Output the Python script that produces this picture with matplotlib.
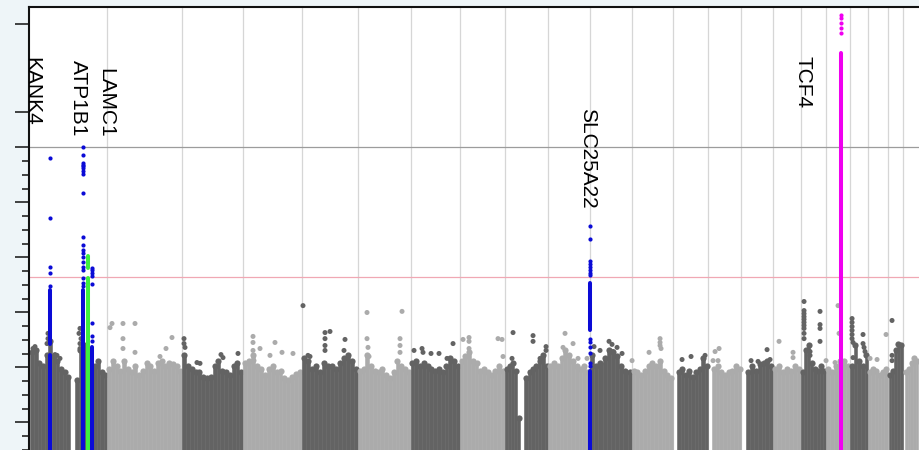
import numpy as np
import matplotlib
matplotlib.use("Agg")
import matplotlib.pyplot as plt

# chromosome lengths (Mb, hg19)
chrom_len = [249.25, 243.20, 198.02, 191.15, 180.92, 171.12, 159.14, 146.36,
             141.21, 135.53, 135.01, 133.85, 115.17, 107.35, 102.53, 90.35,
             81.20, 78.08, 59.13, 63.03, 48.13, 51.30]
cum_start = np.concatenate([[0], np.cumsum(chrom_len)[:-1]])

# bulk of the SNP cloud: covered stretch of each chromosome and the height of the dense part
seg_chrom = [1, 1, 2, 3, 4, 5, 6, 7, 8, 9, 9, 10, 11, 12, 13, 14, 15, 16, 17, 18, 19, 20, 21, 22]
seg_from = [0, 145, 0, 0, 0, 0, 0, 0, 0, 2, 64, 0, 0, 0, 14, 12, 16, 0, 0, 0, 0, 0, 3, 8]
seg_to = [128.6, 249.25, 243.2, 198.02, 191.15, 180.92, 171.12, 159.14, 146.36, 51, 141.21,
          135.53, 135.01, 133.85, 115.17, 107.35, 102.53, 90.35, 81.2, 78.08, 59.13, 63.03,
          48.13, 51.3]
seg_tops = [
    [4.55, 4.62, 4.15, 4.07, 4.44, 4.98, 4.40, 4.25, 3.96, 3.82, 3.67],
    [3.53, 4.62, 4.80, 4.07, 3.96, 4.04, 4.25, 3.82, 3.71],
    [3.96, 4.25, 4.07, 3.89, 4.25, 3.96, 3.82, 4.07, 3.71, 3.89, 4.18, 4.04, 3.89, 4.18,
     4.25, 4.04, 4.18, 4.11, 4.04, 3.89],
    [4.44, 4.07, 3.96, 3.82, 3.82, 3.67, 3.60, 3.67, 4.07, 4.25, 3.89, 3.82, 3.71, 4.07, 4.18, 3.82],
    [4.18, 4.25, 4.44, 4.07, 3.96, 3.71, 3.96, 4.07, 3.82, 3.89, 3.60, 3.53, 3.67, 3.75, 3.82],
    [4.33, 4.25, 3.96, 4.07, 3.82, 4.18, 4.07, 4.04, 3.96, 4.18, 4.33, 4.44, 4.25, 3.96],
    [3.89, 3.96, 4.44, 4.07, 3.89, 3.82, 3.96, 3.71, 3.60, 3.82, 4.25, 4.04, 3.96, 3.82],
    [4.18, 4.25, 4.07, 4.18, 4.04, 3.96, 3.89, 3.96, 3.82, 4.07, 4.33, 4.25, 4.07],
    [4.25, 4.40, 4.55, 4.25, 4.18, 3.89, 3.96, 3.82, 3.71, 3.89, 4.07, 3.89],
    [3.96, 4.07, 4.18, 3.89, 2.15],
    [3.60, 3.82, 3.96, 4.07, 4.25, 4.44, 4.07],
    [4.04, 4.18, 4.07, 4.33, 4.62, 4.44, 4.25, 4.07, 3.96, 4.04, 3.82],
    [4.44, 4.07, 4.18, 4.33, 4.62, 4.55, 4.40, 4.07, 3.89, 3.82],
    [3.89, 3.82, 3.71, 3.89, 4.04, 4.18, 4.07, 4.25, 3.89, 3.71, 3.60],
    [3.82, 3.96, 3.71, 3.89, 3.67, 3.82, 3.96, 4.33, 4.07],
    [3.96, 4.07, 3.82, 3.71, 3.82, 3.89, 4.07, 3.96],
    [3.82, 4.04, 3.89, 4.11, 4.18, 4.25, 4.04],
    [3.96, 4.04, 3.82, 3.96, 3.89, 4.07, 3.96],
    [3.82, 4.62, 4.80, 4.18, 3.96, 3.89, 4.07, 3.89],
    [3.96, 3.82, 4.07, 4.25, 4.25, 4.07],
    [4.07, 4.80, 4.25, 4.04, 4.44],
    [3.82, 3.96, 3.89, 3.71, 3.82, 3.96],
    [3.71, 3.89, 4.62, 4.87, 4.80],
    [3.82, 3.96, 4.18, 4.33, 4.25],
]

# single SNPs sticking out of the cloud (genome position Mb, -log10 p)
out_pos = [8.4, 14.9, 57.1, 57.1, 53.9, 79.8, 86.3, 96.0,
           160.9, 157.7, 164.2, 160.9, 160.9,
           264.8, 300.4, 339.4, 258.3, 300.4, 300.4, 339.4, 459.4, 440.0, 420.5,
           498.4, 498.4, 501.6, 540.5, 550.3, 618.4, 624.9, 673.6,
           722.3, 722.3, 722.3, 725.5, 745.0, 793.6, 777.4, 816.4, 852.0,
           884.5, 955.9, 972.1, 955.9, 955.9, 955.9, 1020.8, 1017.5, 907.2, 900.7,
           1092.2, 1205.8, 1092.2, 1095.4, 1199.3, 1199.3, 1199.3, 1098.7,
           1244.7, 1270.7, 1273.9, 1299.9, 1325.8, 1371.3, 1351.8,
           1403.7, 1423.2, 1423.2, 1423.2, 1517.3, 1530.3, 1533.5,
           1566.0, 1562.7, 1630.9, 1630.9, 1673.1, 1673.1, 1653.6,
           1734.7, 1760.7, 1728.2, 1776.9, 1806.1,
           1877.5, 1887.2, 1903.5, 1890.5, 1828.8, 1848.3, 1919.7,
           2007.3, 2043.0, 2043.0, 2043.0, 2046.2, 1952.2,
           2114.4, 2143.6, 2189.0,
           2221.5, 2234.5, 2215.0, 2231.2,
           2390.2, 2338.3, 2361.0, 2399.9,
           2429.1, 2474.5, 2474.5,
           2510.2, 2510.2, 2510.2, 2510.2, 2510.2, 2510.2, 2510.2, 2510.2, 2510.2, 2510.2,
           2562.1, 2562.1, 2562.1, 2562.1, 2529.7, 2529.7,
           2620.5, 2623.8, 2581.6, 2610.8,
           2666.0, 2666.0, 2666.0, 2666.0, 2666.0, 2666.0, 2669.2, 2701.6, 2701.6, 2704.9,
           2708.1, 2669.2,
           2776.3, 2724.4, 2747.1,
           2795.7, 2795.7, 2795.7]
out_val = [4.69, 4.76, 5.24, 5.05, 4.87, 4.47, 4.44, 4.33,
           5.42, 5.24, 5.05, 4.87, 4.69,
           5.60, 5.60, 5.60, 5.45, 5.05, 4.69, 4.55, 5.09, 4.69, 4.40,
           5.05, 4.87, 4.73, 4.18, 4.15, 4.47, 4.36, 4.51,
           5.13, 4.91, 4.62, 4.25, 4.69, 4.91, 4.44, 4.55, 4.51,
           6.25, 5.27, 5.31, 5.05, 4.80, 4.62, 5.02, 4.62, 4.40, 4.44,
           6.00, 6.04, 5.05, 4.73, 5.05, 4.80, 4.55, 4.40,
           4.62, 4.69, 4.55, 4.51, 4.51, 4.87, 4.33,
           5.02, 5.09, 4.95, 4.69, 5.05, 5.02, 4.40,
           5.27, 4.33, 5.16, 4.95, 4.76, 4.62, 4.33,
           5.24, 4.87, 4.73, 4.33, 4.33,
           4.95, 4.84, 4.73, 4.58, 4.76, 4.62, 4.51,
           4.55, 5.05, 4.91, 4.80, 4.69, 4.25,
           4.29, 4.40, 4.44,
           4.58, 4.69, 4.25, 4.25,
           4.65, 4.25, 4.22, 4.29,
           4.95, 4.55, 4.36,
           6.40, 6.07, 5.96, 5.85, 5.75, 5.64, 5.53, 5.42, 5.24, 5.05,
           6.04, 5.56, 5.42, 4.95, 4.58, 4.44,
           6.25, 5.24, 4.25, 4.18,
           5.78, 5.64, 5.49, 5.35, 5.20, 5.05, 4.91, 5.20, 4.87, 4.73,
           4.58, 4.36,
           5.20, 4.33, 4.29,
           5.71, 4.44, 4.25]

# highlighted loci: (chromosome, position Mb), single SNPs and unbroken runs of SNPs
kank4_at = (1, 63.0)
kank4_pts = [11.60, 9.45, 7.64, 7.45, 6.98]
kank4_runs = [(4.87, 6.80), (0, 4.44)]

atp1b1_at = (1, 170.3)
atp1b1_pts = [12.0, 11.71, 11.45, 11.38, 11.31, 11.24, 11.13, 11.05, 10.36, 8.73,
              8.44, 8.29, 8.15, 8.0, 7.85, 7.64, 7.53, 7.27, 7.09, 6.95]
atp1b1_runs = [(0, 6.80)]

lamc1_at = (1, 186.5)
lamc1_runs = [(7.60, 8.07), (0, 7.27)]

lamc1b_at = (1, 199.5)
lamc1b_pts = [7.60, 7.53, 7.42, 7.31, 7.05, 5.60, 5.16, 4.98]
lamc1b_runs = [(0, 4.73)]

slc_at = (11, 0.8)
slc_pts = [9.16, 8.69, 7.89, 7.78, 7.67, 7.56, 7.45, 7.35, 5.05, 4.91, 4.73, 4.51, 4.18, 4.04]
slc_runs = [(5.35, 7.09), (0, 3.89)]

tcf4_at = (18, 50.0)
tcf4_pts = [42.0, 41.32, 40.18, 39.05, 37.91]
tcf4_runs = [(0, 33.36)]

gene_names = ["KANK4", "ATP1B1", "LAMC1", "SLC25A22", "TCF4"]
gene_label_x = [5.2, 154.7, 245.3, 1809.0, 2506.8]
gene_label_y = [32.45, 31.8, 29.95, 20.86, 32.9]

suggestive = 7.3
axis_break = 12.0

DARK, LIGHT = "#636363", "#ababab"
BLUE, GREEN, MAGENTA = "#0b0bd6", "#3ef03e", "#f000f0"

squeeze = 0.16


def fwd(v):
    v = np.asarray(v, float)
    return np.where(v <= axis_break, v, axis_break + (v - axis_break) * squeeze)


def inv(t):
    t = np.asarray(t, float)
    return np.where(t <= axis_break, t, axis_break + (t - axis_break) / squeeze)


fig = plt.figure(figsize=(9.2, 4.5), dpi=100, facecolor="#eef5f8")
ax = fig.add_axes([29 / 920, 1 - 477.5 / 450, 907.5 / 920, 471 / 450])
ax.set_facecolor("white")
ax.set_yscale("function", functions=(fwd, inv))
ax.set_xlim(-4.54, 2940)
ax.set_ylim(0, 44.04)

for s in cum_start[1:]:
    ax.axvline(s, color="#d6d6d6", lw=0.9, zorder=0)
ax.axhline(axis_break, color="#9c9c9c", lw=0.9, zorder=1)
ax.axhline(suggestive, color="#f0a8b4", lw=0.9, zorder=1)

# dense cloud
for c, a, b, tops in zip(seg_chrom, seg_from, seg_to, seg_tops):
    col = DARK if c % 2 == 1 else LIGHT
    n = len(tops)
    w = (b - a) / n
    xs = cum_start[c - 1] + a + w * (np.arange(n) + 0.5)
    ax.bar(xs, tops, width=w, bottom=0, color=col, edgecolor=col, linewidth=0.4, zorder=2)
    ax.scatter(xs, tops, s=20, color=col, linewidths=0, zorder=2)

out_pos = np.array(out_pos)
out_chrom = np.searchsorted(cum_start, out_pos, side="right")
out_col = [DARK if c % 2 == 1 else LIGHT for c in out_chrom]
ax.scatter(out_pos, out_val, s=13, c=out_col, linewidths=0, zorder=2.5)


def locus(at, pts, runs, color, z):
    x = cum_start[at[0] - 1] + at[1]
    for lo, hi in runs:
        ax.vlines(x, lo, hi, colors=color, lw=2.9, capstyle="round", zorder=z)
    if pts:
        ax.scatter(np.full(len(pts), x), pts, s=9, color=color, linewidths=0, zorder=z)


locus(lamc1_at, [], lamc1_runs, GREEN, 3)
locus(kank4_at, kank4_pts, kank4_runs, BLUE, 3.5)
locus(atp1b1_at, atp1b1_pts, atp1b1_runs, BLUE, 3.5)
locus(lamc1b_at, lamc1b_pts, lamc1b_runs, BLUE, 3.5)
locus(slc_at, slc_pts, slc_runs, BLUE, 3.5)
locus(tcf4_at, tcf4_pts, tcf4_runs, MAGENTA, 3.5)

for name, gx, gy in zip(gene_names, gene_label_x, gene_label_y):
    ax.text(gx, gy, name, rotation=-90, ha="center", va="top", fontsize=15,
            family=["Liberation Sans", "DejaVu Sans"], color="black", zorder=5)

ax.set_yticks([0, 2, 4, 6, 8, 10, 12, 20, 40])
ax.set_yticks([v for v in np.arange(0.5, 12, 0.5) if v % 2 != 0], minor=True)
ax.tick_params(axis="y", which="major", length=10, width=1.1, color="#111111", labelleft=False)
ax.tick_params(axis="y", which="minor", length=5, width=1.1, color="#111111")
ax.tick_params(axis="x", bottom=False, labelbottom=False)
for side in ("left", "top"):
    ax.spines[side].set_linewidth(1.5)
    ax.spines[side].set_color("#111111")
ax.spines["right"].set_visible(False)
ax.spines["bottom"].set_visible(False)

fig.savefig("out.png", dpi=100, facecolor=fig.get_facecolor())
